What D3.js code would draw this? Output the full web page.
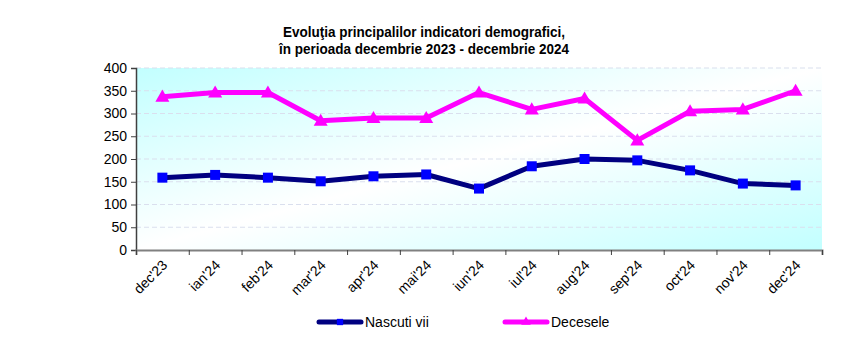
<!DOCTYPE html>
<html>
<head>
<meta charset="utf-8">
<script src="https://cdn.jsdelivr.net/npm/d3@7"></script>
<style>
  body { margin: 0; background: #fff; }
  svg { font-family: "Liberation Sans", Arial, sans-serif; }
</style>
</head>
<body>
<svg width="864" height="348"></svg>
<script>
// monthly figures, dec 2023 - dec 2024
var months = ["dec'23", "ian'24", "feb'24", "mar'24", "apr'24", "mai'24", "iun'24",
              "iul'24", "aug'24", "sep'24", "oct'24", "nov'24", "dec'24"];
var nascuti = [159, 165, 159, 151, 162, 166, 135, 184, 200, 197, 175, 146, 142];
var decese  = [337, 346, 346, 284, 290, 290, 346, 309, 333, 241, 305, 309, 350];
var yTicks  = [0, 50, 100, 150, 200, 250, 300, 350, 400];
var titleLines = ["Evoluţia principalilor indicatori demografici,",
                  "în perioada decembrie 2023 - decembrie 2024"];

var svg = d3.select("svg");
var plotL = 136, plotR = 822, plotT = 68, plotB = 250;

var x = d3.scaleBand().domain(months).range([plotL, plotR]);
var xEdge = d3.scaleLinear().domain([0, months.length]).range([plotL, plotR]);
var y = d3.scaleLinear().domain([0, 400]).range([plotB, plotT]);
var cx = function(d, i) { return x(months[i]) + x.bandwidth() / 2; };

// plot area fill: cyan corners, white along the other diagonal
var grad = svg.append("defs").append("linearGradient")
    .attr("id", "bg").attr("x1", 0).attr("y1", 0).attr("x2", 1).attr("y2", 1);
grad.append("stop").attr("offset", "0%").attr("stop-color", "#c2ffff");
grad.append("stop").attr("offset", "50%").attr("stop-color", "#ffffff");
grad.append("stop").attr("offset", "100%").attr("stop-color", "#c2ffff");

svg.append("rect")
    .attr("x", plotL).attr("y", plotT)
    .attr("width", plotR - plotL).attr("height", plotB - plotT)
    .attr("fill", "url(#bg)");

// dashed gridlines
svg.append("g").selectAll("line")
    .data(yTicks.filter(function(t) { return t > 0; }))
    .enter().append("line")
    .attr("x1", plotL).attr("x2", plotR)
    .attr("y1", function(d) { return y(d); })
    .attr("y2", function(d) { return y(d); })
    .attr("stroke", "#dadfee").attr("stroke-width", 1.2)
    .attr("stroke-dasharray", "5,3");

// y axis
var yAxis = svg.append("g")
    .attr("transform", "translate(" + plotL + ",0)")
    .call(d3.axisLeft(y).tickValues(yTicks).tickSize(5).tickPadding(4));
yAxis.select(".domain").attr("stroke", "#404040").attr("stroke-width", 1.5);
yAxis.selectAll(".tick line").attr("stroke", "#404040");
yAxis.selectAll("text").attr("font-size", 14).attr("fill", "#000")
    .attr("font-family", "Liberation Sans, Arial, sans-serif");

// x axis: ticks on band edges, rotated month labels
var xAxis = svg.append("g")
    .attr("transform", "translate(0," + plotB + ")")
    .call(d3.axisBottom(xEdge).tickValues(d3.range(months.length + 1))
          .tickSize(5).tickFormat(""));
xAxis.select(".domain").attr("stroke", "#808080").attr("stroke-width", 2);
xAxis.selectAll(".tick line").attr("stroke", "#404040");

svg.append("g").selectAll("text")
    .data(months).enter().append("text")
    .attr("transform", function(d, i) {
        return "translate(" + (cx(d, i) + 6) + "," + (plotB + 16) + ") rotate(-45)";
    })
    .attr("text-anchor", "end")
    .attr("font-size", 14)
    .text(function(d) { return d; });

// series lines
var line = d3.line().x(cx).y(function(d) { return y(d); });

svg.append("path").datum(nascuti)
    .attr("d", line).attr("fill", "none")
    .attr("stroke", "#000080").attr("stroke-width", 5)
    .attr("stroke-linejoin", "round");

svg.append("path").datum(decese)
    .attr("d", line).attr("fill", "none")
    .attr("stroke", "#ff00ff").attr("stroke-width", 5)
    .attr("stroke-linejoin", "round");

// markers
svg.append("g").selectAll("rect")
    .data(nascuti).enter().append("rect")
    .attr("x", function(d, i) { return cx(d, i) - 5; })
    .attr("y", function(d) { return y(d) - 5; })
    .attr("width", 10).attr("height", 10)
    .attr("fill", "#0000ff");

var tri = d3.symbol().type(d3.symbolTriangle).size(85);
svg.append("g").selectAll("path")
    .data(decese).enter().append("path")
    .attr("d", tri)
    .attr("transform", function(d, i) {
        return "translate(" + cx(d, i) + "," + (y(d) + 1) + ")";
    })
    .attr("fill", "#ff00ff");

// title
svg.append("g").selectAll("text")
    .data(titleLines).enter().append("text")
    .attr("x", 424)
    .attr("y", function(d, i) { return 37 + i * 17; })
    .attr("text-anchor", "middle")
    .attr("font-size", 14).attr("font-weight", "bold")
    .attr("textLength", function(d, i) { return i === 0 ? 282 : 290; })
    .attr("lengthAdjust", "spacingAndGlyphs")
    .text(function(d) { return d; });

// legend
var legend = [
    { name: "Nascuti vii", color: "#000080", marker: "#0000ff", sym: d3.symbolSquare, x: 319 },
    { name: "Decesele", color: "#ff00ff", marker: "#ff00ff", sym: d3.symbolTriangle, x: 505 }
];
var lg = svg.append("g").selectAll("g")
    .data(legend).enter().append("g")
    .attr("transform", function(d) { return "translate(" + d.x + ",322)"; });
lg.append("line")
    .attr("x1", 0).attr("x2", 42)
    .attr("stroke", function(d) { return d.color; })
    .attr("stroke-width", 5).attr("stroke-linecap", "round");
lg.append("path")
    .attr("d", function(d) { return d3.symbol().type(d.sym).size(40)(); })
    .attr("transform", "translate(21,0)")
    .attr("fill", function(d) { return d.marker; });
lg.append("text")
    .attr("x", 46).attr("y", 5)
    .attr("font-size", 14)
    .text(function(d) { return d.name; });
</script>
</body>
</html>
